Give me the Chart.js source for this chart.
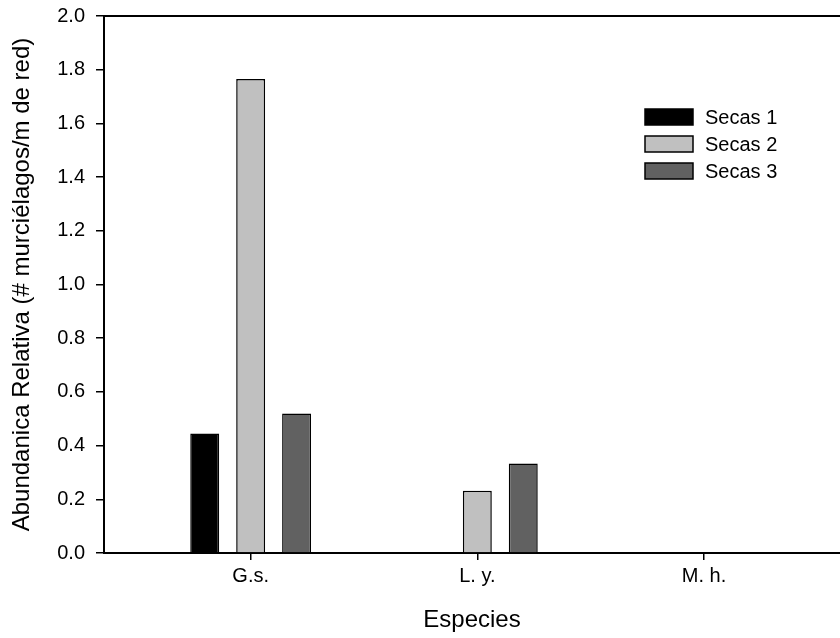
<!DOCTYPE html>
<html>
<head>
<meta charset="utf-8">
<script src="https://cdn.jsdelivr.net/npm/chart.js@4.4.1/dist/chart.umd.min.js"></script>
<style>
  html, body { margin: 0; padding: 0; background: #fff; }
  #wrap { width: 840px; height: 638px; position: relative; }
</style>
</head>
<body>
<div id="wrap"><canvas id="barChart"></canvas></div>
<script>
// Data
const species = ['G.s.', 'L. y.', 'M. h.'];
const seriesNames = ['Secas 1', 'Secas 2', 'Secas 3'];
const secas1 = [0.445, 0, 0];
const secas2 = [1.765, 0.232, 0];
const secas3 = [0.52, 0.333, 0];
const yTicks = [0, 0.2, 0.4, 0.6, 0.8, 1.0, 1.2, 1.4, 1.6, 1.8, 2.0];

const fontFamily = '"Liberation Sans", Arial, sans-serif';
const fills = ['#000000', '#c0c0c0', '#616161'];

function toPoints(values) {
  return values.map((v, i) => ({ x: i + 1, y: v }));
}

// Legend drawn inside the plot, like the original
const insideLegend = {
  id: 'insideLegend',
  afterDraw(chart) {
    const ctx = chart.ctx;
    ctx.save();
    ctx.font = '20px ' + fontFamily;
    ctx.textBaseline = 'middle';
    chart.data.datasets.forEach((ds, i) => {
      const y = 117 + i * 27;
      ctx.fillStyle = ds.backgroundColor;
      ctx.fillRect(645, y - 8, 48, 16);
      ctx.strokeStyle = '#000';
      ctx.lineWidth = 1.5;
      ctx.strokeRect(645, y - 8, 48, 16);
      ctx.fillStyle = '#000';
      ctx.fillText(ds.label, 705, y + 1);
    });
    ctx.restore();
  }
};

const datasets = [secas1, secas2, secas3].map((vals, i) => ({
  label: seriesNames[i],
  data: toPoints(vals),
  backgroundColor: fills[i],
  borderColor: '#000',
  borderWidth: 1.5,
  categoryPercentage: 0.608,
  barPercentage: 0.63
}));

const ctx = document.getElementById('barChart').getContext('2d');
const barChart = new Chart(ctx, {
  type: 'bar',
  data: { datasets: datasets },
  options: {
    responsive: true,
    maintainAspectRatio: false,
    animation: false,
    layout: { padding: { top: 16, right: 0, left: 0, bottom: 0 } },
    plugins: {
      legend: { display: false },
      tooltip: { enabled: false }
    },
    scales: {
      x: {
        type: 'linear',
        position: 'bottom',
        offset: false,
        min: 0.353,
        max: 3.6,
        afterBuildTicks: (scale) => {
          scale.ticks = species.map((s, i) => ({ value: i + 1 }));
        },
        afterFit: (scale) => {
          scale.height = 85;
          scale.paddingLeft = 0;
          scale.paddingRight = 0;
        },
        ticks: {
          color: '#000',
          font: { family: fontFamily, size: 20 },
          padding: 4,
          maxRotation: 0,
          callback: (v) => species[v - 1]
        },
        grid: {
          offset: false,
          drawOnChartArea: false,
          drawTicks: true,
          tickLength: 7,
          tickColor: '#000',
          lineWidth: 1.5
        },
        border: { display: true, color: '#000', width: 2 },
        title: {
          display: true,
          text: 'Especies',
          color: '#000',
          font: { family: fontFamily, size: 24 },
          padding: { top: 0, bottom: 3 }
        }
      },
      x2: {
        type: 'linear',
        position: 'top',
        offset: false,
        min: 0.353,
        max: 3.6,
        afterFit: (scale) => { scale.height = 0; },
        ticks: { display: false },
        grid: { display: false, drawTicks: false },
        border: { display: true, color: '#000', width: 2 }
      },
      y: {
        min: 0,
        max: 2,
        afterBuildTicks: (scale) => {
          scale.ticks = yTicks.map(v => ({ value: v }));
        },
        afterFit: (scale) => {
          scale.width = 104;
          scale.paddingTop = 0;
          scale.paddingBottom = 0;
        },
        ticks: {
          color: '#000',
          font: { family: fontFamily, size: 20 },
          padding: 11,
          callback: (v) => v.toFixed(1)
        },
        grid: {
          drawOnChartArea: false,
          drawTicks: true,
          tickLength: 8,
          tickColor: '#000',
          lineWidth: 1.5
        },
        border: { display: true, color: '#000', width: 2 },
        title: {
          display: true,
          text: 'Abundanica Relativa (# murciélagos/m de red)',
          color: '#000',
          font: { family: fontFamily, size: 24 },
          padding: { top: 8, bottom: 0 }
        }
      }
    }
  },
  plugins: [insideLegend]
});
</script>
</body>
</html>
